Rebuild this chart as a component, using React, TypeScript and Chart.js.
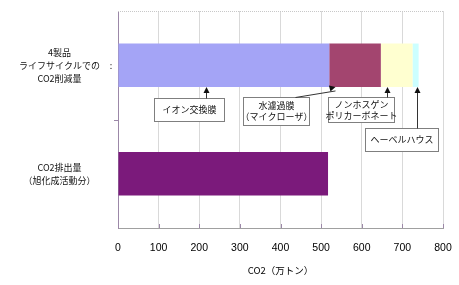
import { useEffect, useRef } from "react";
import { Chart, registerables } from "chart.js";
Chart.register(...registerables);

const categories = [
  ["4製品", "ライフサイクルでの", "CO2削減量"],
  ["CO2排出量", "（旭化成活動分）"],
];
const seriesNames = ["イオン交換膜", "水濾過膜（マイクローザ）", "ノンホスゲンポリカーボネート", "ヘーベルハウス", "CO2排出量（旭化成活動分）"];
const ionExchange = [520, null];
const waterFilter = [127, null];
const nonPhosgene = [78, null];
const hebelHaus = [15, null];
const emissions = [null, 517];
const xMin = 0;
const xMax = 800;
const xStep = 100;
const axisTitle = "CO2（万トン）";
const calloutTexts = [
  ["イオン交換膜"],
  ["水濾過膜", "（マイクローザ）"],
  ["ノンホスゲン", "ポリカーボネート"],
  ["ヘーベルハウス"],
];

const FONT = '"Liberation Sans", "Noto Sans CJK JP", sans-serif';
const JP = '"Noto Sans CJK JP", "Liberation Sans", sans-serif';

// callout layout: box edges / arrow ends in x-axis units, vertical offsets in px below the bar
const calloutLayout = [
  { boxL: 89.5, boxR: 262, top: 11, bottom: 34, fromX: 217, toX: 217 },
  { boxL: 308, boxR: 470, top: 10, bottom: 38, fromX: 436, toX: 534 },
  { boxL: 517, boxR: 679, top: 10, bottom: 35, fromX: 662, toX: 662 },
  { boxL: 608, boxR: 787, top: 41, bottom: 64, fromX: 735, toX: 735 },
];

const decorPlugin = {
  id: "decor",
  afterDatasetsDraw(chart: any) {
    const { ctx, chartArea, scales } = chart;
    const x = scales.x;
    const el = chart.getDatasetMeta(0).data[0];
    const barBottom = el.y + el.height / 2;
    ctx.save();
    // dotted top frame
    ctx.strokeStyle = "#c8c8c8";
    ctx.lineWidth = 1;
    ctx.setLineDash([1, 1]);
    ctx.beginPath();
    ctx.moveTo(chartArea.left, Math.round(chartArea.top) + 0.5);
    ctx.lineTo(chartArea.right, Math.round(chartArea.top) + 0.5);
    ctx.stroke();
    ctx.setLineDash([]);
    // inward x ticks
    ctx.strokeStyle = "#9c88a8";
    for (let v = xMin + xStep; v <= xMax; v += xStep) {
      const px = Math.round(x.getPixelForValue(v)) + 0.5;
      ctx.beginPath();
      ctx.moveTo(px, chartArea.bottom - 4);
      ctx.lineTo(px, chartArea.bottom);
      ctx.stroke();
    }
    // y tick at category boundary
    const midY = Math.round((chartArea.top + chartArea.bottom) / 2) + 0.5;
    ctx.beginPath();
    ctx.moveTo(chartArea.left - 4, midY);
    ctx.lineTo(chartArea.left, midY);
    ctx.stroke();
    // colon glyph next to the first category label
    ctx.fillStyle = "#222";
    ctx.font = `9px ${JP}`;
    ctx.textAlign = "center";
    ctx.textBaseline = "middle";
    ctx.fillText(":", chartArea.left - 7, scales.y.getPixelForValue(0));

    // callouts
    calloutLayout.forEach((c, i) => {
      const l = Math.round(x.getPixelForValue(c.boxL)) + 0.5;
      const r = Math.round(x.getPixelForValue(c.boxR)) + 0.5;
      const t = Math.round(barBottom + c.top) + 0.5;
      const b = Math.round(barBottom + c.bottom) + 0.5;
      ctx.fillStyle = "#ffffff";
      ctx.fillRect(l, t, r - l, b - t);
      ctx.strokeStyle = "#7f7f7f";
      ctx.lineWidth = 1;
      ctx.strokeRect(l, t, r - l, b - t);
      // text
      const lines = calloutTexts[i];
      ctx.fillStyle = "#111";
      ctx.font = `9px ${JP}`;
      ctx.textAlign = "center";
      ctx.textBaseline = "middle";
      const lh = 11;
      const cy = (t + b) / 2;
      lines.forEach((s, k) => {
        ctx.fillText(s, (l + r) / 2, cy + (k - (lines.length - 1) / 2) * lh);
      });
      // arrow
      const fx = Math.round(x.getPixelForValue(c.fromX)) + 0.5;
      const tx = Math.round(x.getPixelForValue(c.toX)) + 0.5;
      const ty = barBottom;
      ctx.strokeStyle = "#333";
      ctx.beginPath();
      ctx.moveTo(fx, t);
      ctx.lineTo(tx, ty + 4);
      ctx.stroke();
      const ang = Math.atan2(ty - t, tx - fx);
      const len = 6, wid = 3;
      ctx.fillStyle = "#111";
      ctx.beginPath();
      ctx.moveTo(tx, ty);
      ctx.lineTo(tx - len * Math.cos(ang) + wid * Math.sin(ang), ty - len * Math.sin(ang) - wid * Math.cos(ang));
      ctx.lineTo(tx - len * Math.cos(ang) - wid * Math.sin(ang), ty - len * Math.sin(ang) + wid * Math.cos(ang));
      ctx.closePath();
      ctx.fill();
    });
    ctx.restore();
  },
};

export default function App() {
  const ref = useRef<HTMLCanvasElement | null>(null);
  useEffect(() => {
    if (!ref.current) return;
    const mk = (label: string, data: (number | null)[], color: string) => ({
      label,
      data,
      backgroundColor: color,
      borderWidth: 0,
      categoryPercentage: 0.4,
      barPercentage: 1,
    });
    const chart = new Chart(ref.current, {
      type: "bar",
      data: {
        labels: categories as any,
        datasets: [
          mk(seriesNames[0], ionExchange, "#a4a4f6"),
          mk(seriesNames[1], waterFilter, "#a3456f"),
          mk(seriesNames[2], nonPhosgene, "#ffffd0"),
          mk(seriesNames[3], hebelHaus, "#ccffff"),
          mk(seriesNames[4], emissions, "#7b1a7b"),
        ],
      },
      options: {
        indexAxis: "y",
        animation: false,
        responsive: true,
        maintainAspectRatio: false,
        layout: { padding: { top: 11, right: 16, left: 0, bottom: 0 } },
        plugins: {
          legend: { display: false },
          tooltip: { enabled: false },
        },
        scales: {
          x: {
            stacked: true,
            min: xMin,
            max: xMax,
            afterFit: (s: any) => { s.height = 57; s.paddingLeft = 0; s.paddingRight = 0; },
            ticks: {
              stepSize: xStep,
              padding: 14,
              color: "#000",
              font: { family: FONT, size: 10.5 },
            },
            grid: { color: "#d9d9d9", drawTicks: false },
            border: { color: "#a0a0a0" },
            title: {
              display: true,
              text: axisTitle,
              color: "#000",
              font: { family: JP, size: 9.5 },
              padding: { top: 0, bottom: 9 },
            },
          },
          y: {
            stacked: true,
            afterFit: (s: any) => { s.width = 118; s.paddingTop = 0; s.paddingBottom = 0; },
            ticks: {
              crossAlign: "center",
              padding: 18,
              color: "#111",
              font: { family: JP, size: 9, lineHeight: 1.45 },
            },
            grid: { display: false, drawTicks: false },
            border: { color: "#9c88a8" },
          },
        },
      },
      plugins: [decorPlugin],
    });
    return () => chart.destroy();
  }, []);
  return (
    <div style={{ position: "fixed", left: 0, top: 0, width: 459, height: 285, background: "#fff" }}>
      <canvas ref={ref} />
    </div>
  );
}
